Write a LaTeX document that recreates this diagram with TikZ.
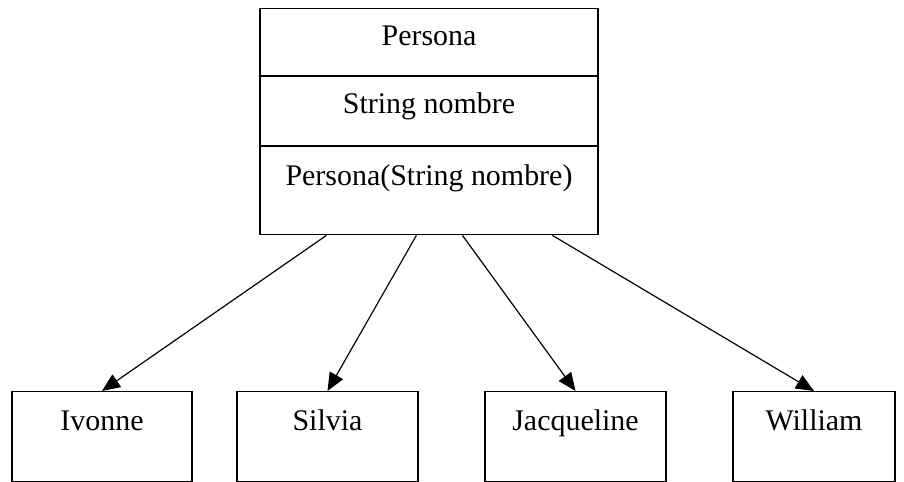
\documentclass[tikz,border=0pt]{standalone}
\usepackage{fontspec}
\setmainfont{Liberation Serif}
\usetikzlibrary{arrows.meta}

\tikzset{
	seccion/.style={draw, line width=0.8pt, inner sep=0pt, minimum width=8.45cm},
	hijo/.style={draw, line width=0.9pt, inner sep=0pt, anchor=north,
		text height=0.975cm, text depth=1.265cm},
	herencia/.style={-{Triangle[length=0.45cm,width=0.38cm]}, line width=0.85pt}
}

\begin{document}
\begin{tikzpicture}[font=\fontsize{21.3}{25}\selectfont]
\useasboundingbox (0,0) rectangle (22.6,12.025);
% clase Persona
\node[seccion, anchor=north, text height=0.925cm, text depth=0.75cm] (titulo) at (10.725,11.825) {Persona};
\node[seccion, anchor=north, text height=0.925cm, text depth=0.8cm] (atributo) at (titulo.south) {String nombre};
\node[seccion, anchor=north, text height=0.975cm, text depth=1.225cm] (metodo) at (atributo.south) {Persona(String nombre)};
\coordinate (s1) at ([xshift=1.675cm]metodo.south west);
\coordinate (s2) at ([xshift=3.925cm]metodo.south west);
\coordinate (s3) at ([xshift=5.075cm]metodo.south west);
\coordinate (s4) at ([xshift=7.325cm]metodo.south west);
% objetos
\node[hijo, minimum width=4.5cm] (ivonne) at (2.55,2.25) {Ivonne};
\node[hijo, minimum width=4.525cm] (silvia) at (8.1875,2.25) {Silvia};
\node[hijo, minimum width=4.525cm] (jacqueline) at (14.3875,2.25) {Jacqueline};
\node[hijo, minimum width=4.05cm] (william) at (20.35,2.25) {William};
\draw[herencia] (s1) -- (ivonne.north);
\draw[herencia] (s2) -- (silvia.north);
\draw[herencia] (s3) -- (jacqueline.north);
\draw[herencia] (s4) -- (william.north);
\end{tikzpicture}
\end{document}
